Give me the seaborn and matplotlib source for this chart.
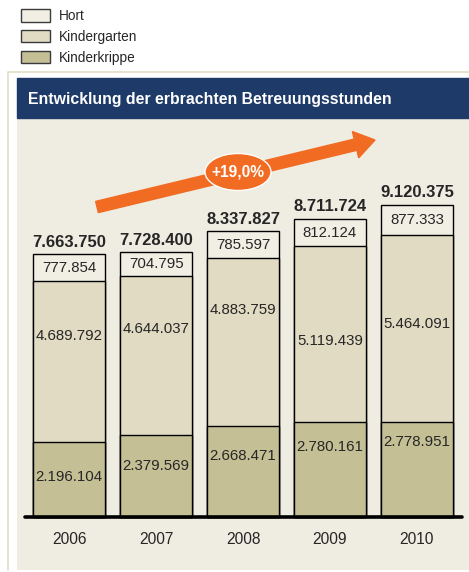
import pandas as pd
import seaborn as sns
import matplotlib.pyplot as plt
import matplotlib.patches as mpatches

sns.set_style("white")
plt.rcParams["font.family"] = ["Liberation Sans", "DejaVu Sans"]

# data
years = ["2006", "2007", "2008", "2009", "2010"]
kinderkrippe = [2196104, 2379569, 2668471, 2780161, 2778951]
kindergarten = [4689792, 4644037, 4883759, 5119439, 5464091]
hort = [777854, 704795, 785597, 812124, 877333]
totals = [7663750, 7728400, 8337827, 8711724, 9120375]
growth_label = "+19,0%"

# label placement inside the segments (fraction of segment height)
kg_label_pos = [0.66, 0.67, 0.69, 0.46, 0.52]
kk_label_pos = [0.53, 0.63, 0.67, 0.73, 0.79]

df = pd.DataFrame({"year": years, "krippe": kinderkrippe,
                   "kg": kindergarten, "hort": hort, "total_label": totals})
df["kg_top"] = df["krippe"] + df["kg"]
df["total"] = df["kg_top"] + df["hort"]

c_hort = "#F1EFE4"
c_kg = "#E0DBC2"
c_kk = "#C5BF95"
c_bg = "#EFECE1"
c_navy = "#1E3A68"
c_orange = "#F26B22"

def fmt(v):
    return f"{v:,}".replace(",", ".")

W, H = 469, 572
fig = plt.figure(figsize=(W / 100, H / 100), dpi=100)

# outer frame line + title bar
fig.add_artist(plt.Line2D([8 / W, 8 / W, 1], [2 / H, 1 - 72 / H, 1 - 72 / H],
                          color="#E2DEC6", lw=1.2))
fig.add_artist(mpatches.Rectangle((17 / W, 1 - 118 / H), 452 / W, 40 / H,
                                  color=c_navy, transform=fig.transFigure))
fig.text(28 / W, 1 - 99 / H, "Entwicklung der erbrachten Betreuungsstunden",
         color="white", fontsize=11.4, fontweight="bold", va="center")

ax = fig.add_axes([17 / W, 2 / H, 452 / W, 452 / H])
ax.set_facecolor(c_bg)

# stacked bars drawn as overlapping totals
for col, color in [("total", c_hort), ("kg_top", c_kg), ("krippe", c_kk)]:
    sns.barplot(data=df, x="year", y=col, color=color, saturation=1,
                edgecolor="black", linewidth=1, width=0.83, ax=ax, errorbar=None)

for i, row in df.iterrows():
    ax.text(i, row["kg_top"] + row["hort"] / 2, fmt(row["hort"]),
            ha="center", va="center", fontsize=10.8)
    ax.text(i, row["krippe"] + row["kg"] * kg_label_pos[i], fmt(row["kg"]),
            ha="center", va="center", fontsize=10.8)
    ax.text(i, row["krippe"] * kk_label_pos[i], fmt(row["krippe"]),
            ha="center", va="center", fontsize=10.8)
    ax.annotate(fmt(row["total_label"]), (i, row["total"]), xytext=(0, 3),
                textcoords="offset points", ha="center", va="bottom",
                fontsize=12, fontweight="bold")
    ax.annotate(row["year"], (i, 0), xytext=(0, -16), textcoords="offset points",
                ha="center", va="center", fontsize=11.2)

ax.axhline(0, xmin=8 / 452, xmax=445 / 452, color="black", lw=2.6, zorder=5)
ax.set_xlim(-0.6, 4.6)
ax.set_ylim(-1.55e6, 11.65e6)
ax.set_xlabel("")
ax.set_ylabel("")
ax.set_xticks([])
ax.set_yticks([])
sns.despine(ax=ax, left=True, bottom=True)

# growth arrow with badge
arrow = mpatches.FancyArrow(97 / 100, (H - 207) / 100, (375 - 97) / 100, (207 - 140) / 100,
                            width=0.115, head_width=0.27, head_length=0.2,
                            length_includes_head=True, color=c_orange,
                            transform=fig.dpi_scale_trans, zorder=6)
fig.add_artist(arrow)
badge = mpatches.Ellipse((238 / 100, (H - 172) / 100), 0.66, 0.37,
                         facecolor=c_orange, edgecolor="white", lw=1,
                         transform=fig.dpi_scale_trans, zorder=7)
fig.add_artist(badge)
fig.text(238 / W, 1 - 172 / H, growth_label, color="white", fontsize=11.2,
         fontweight="bold", ha="center", va="center", zorder=8)

# legend
handles = [mpatches.Patch(facecolor=c, edgecolor="#3a3a3a", lw=1, label=l)
           for c, l in [(c_hort, "Hort"), (c_kg, "Kindergarten"), (c_kk, "Kinderkrippe")]]
fig.legend(handles=handles, loc="upper left", bbox_to_anchor=(21 / W, 1 - 9 / H),
           frameon=False, fontsize=9.8, handlelength=2.13, handleheight=1.03,
           labelspacing=0.5, handletextpad=0.66, borderpad=0, borderaxespad=0)

fig.savefig("out.png", dpi=100)
